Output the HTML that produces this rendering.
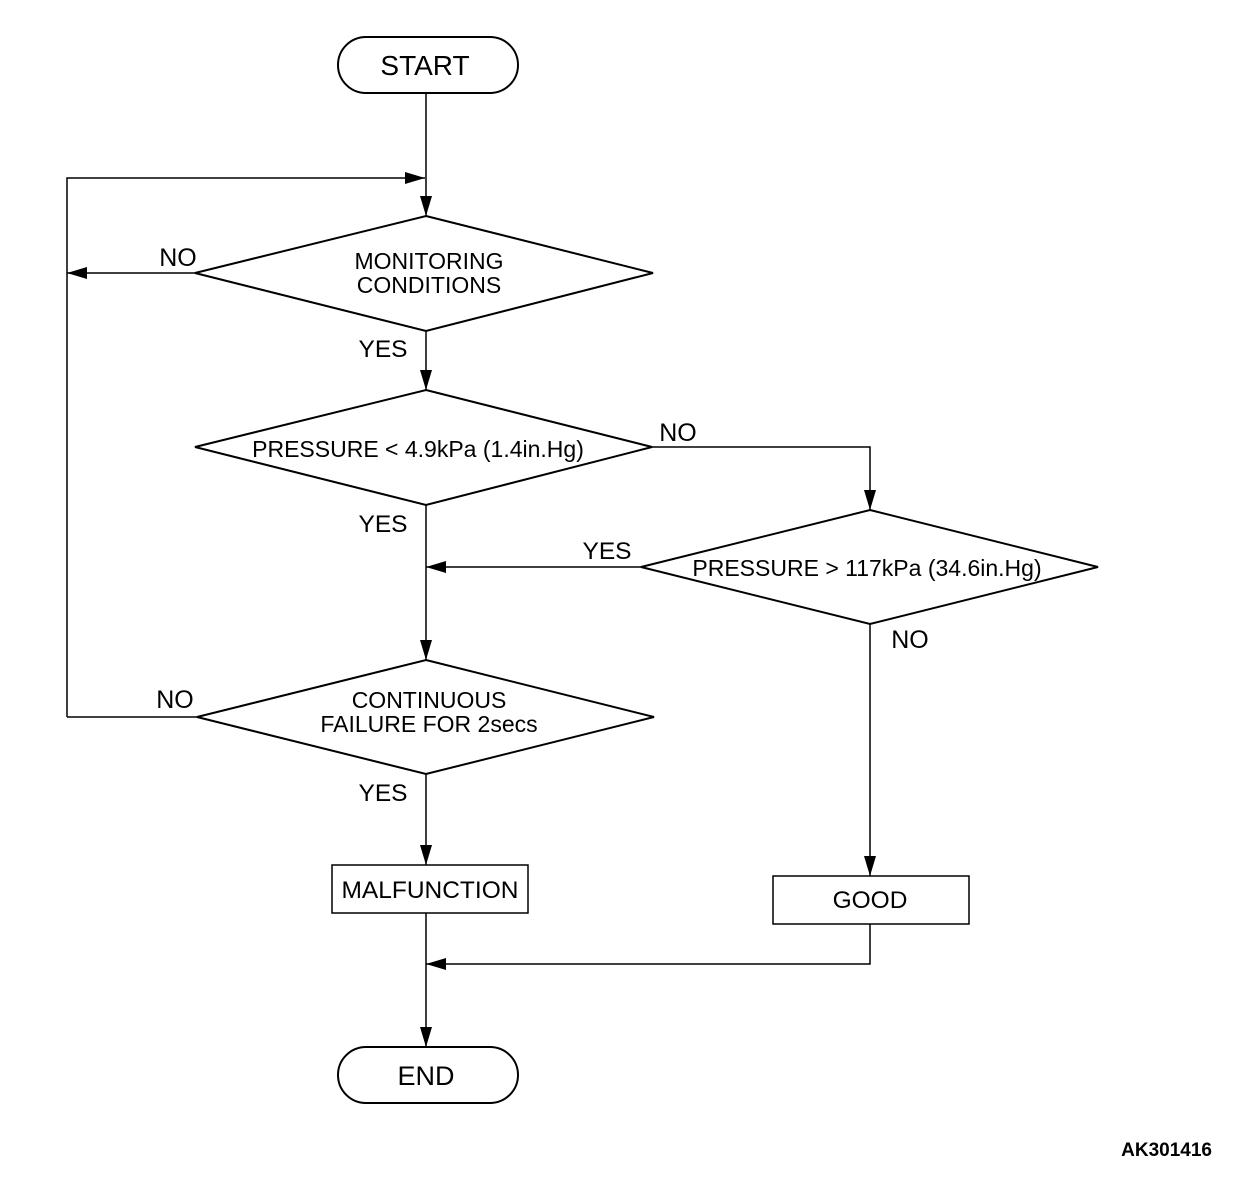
<!DOCTYPE html>
<html><head><style>body{margin:0;background:#fff}svg{display:block}text{font-family:"Liberation Sans",Arial,sans-serif;fill:#000}</style></head>
<body>
<svg width="1248" height="1188" viewBox="0 0 1248 1188" xmlns="http://www.w3.org/2000/svg">
<defs><marker id="a" markerWidth="20" markerHeight="12" refX="20" refY="6" orient="auto" markerUnits="userSpaceOnUse"><path d="M0,0 L20,6 L0,12 Z" fill="#000"/></marker></defs>
<g fill="none" stroke="#000" stroke-width="1.5">
<line x1="426" y1="93" x2="426" y2="216" marker-end="url(#a)"/>
<polyline points="67,717 67,178 425,178" marker-end="url(#a)"/>
<line x1="195" y1="273" x2="67" y2="273" marker-end="url(#a)"/>
<line x1="426" y1="331" x2="426" y2="390" marker-end="url(#a)"/>
<polyline points="652,447 870,447 870,510" marker-end="url(#a)"/>
<line x1="641" y1="567" x2="426" y2="567" marker-end="url(#a)"/>
<line x1="426" y1="505" x2="426" y2="660" marker-end="url(#a)"/>
<line x1="197" y1="717" x2="67" y2="717"/>
<line x1="426" y1="774" x2="426" y2="865" marker-end="url(#a)"/>
<line x1="870" y1="624" x2="870" y2="876" marker-end="url(#a)"/>
<polyline points="870,924 870,964 426,964" marker-end="url(#a)"/>
<line x1="426" y1="913" x2="426" y2="1047" marker-end="url(#a)"/>
</g>
<g fill="#fff" stroke="#000" stroke-width="2">
<rect x="338" y="37" width="180" height="56" rx="28"/>
<polygon points="426,216 653,273 426,331 195,273"/>
<polygon points="426,390 652,447 426,505 195,447"/>
<polygon points="870,510 1098,567 870,624 641,567"/>
<polygon points="426,660 654,717 426,774 197,717"/>
<rect x="332" y="865" width="196" height="48" stroke-width="1.5"/>
<rect x="773" y="876" width="196" height="48" stroke-width="1.5"/>
<rect x="338" y="1047" width="180" height="56" rx="28"/>
</g>
<g text-anchor="middle" style="font-size:23px">
<text x="425" y="75" style="font-size:28px">START</text>
<text x="429" y="269">MONITORING</text>
<text x="429" y="293">CONDITIONS</text>
<text x="418" y="457">PRESSURE &lt; 4.9kPa (1.4in.Hg)</text>
<text x="867" y="576">PRESSURE &gt; 117kPa (34.6in.Hg)</text>
<text x="429" y="708">CONTINUOUS</text>
<text x="429" y="732">FAILURE FOR 2secs</text>
<text x="430" y="898" style="font-size:24.5px">MALFUNCTION</text>
<text x="870" y="908" style="font-size:24.5px">GOOD</text>
<text x="426" y="1085" style="font-size:27px">END</text>
<text x="178" y="266" style="font-size:25px">NO</text>
<text x="383" y="357" style="font-size:24.5px">YES</text>
<text x="678" y="441" style="font-size:25px">NO</text>
<text x="383" y="532" style="font-size:24.5px">YES</text>
<text x="607" y="559" style="font-size:24.5px">YES</text>
<text x="910" y="648" style="font-size:25px">NO</text>
<text x="175" y="708" style="font-size:25px">NO</text>
<text x="383" y="801" style="font-size:24.5px">YES</text>
</g>
<text x="1212" y="1156" text-anchor="end" font-weight="bold" style="font-size:19px">AK301416</text>
</svg>
</body></html>
